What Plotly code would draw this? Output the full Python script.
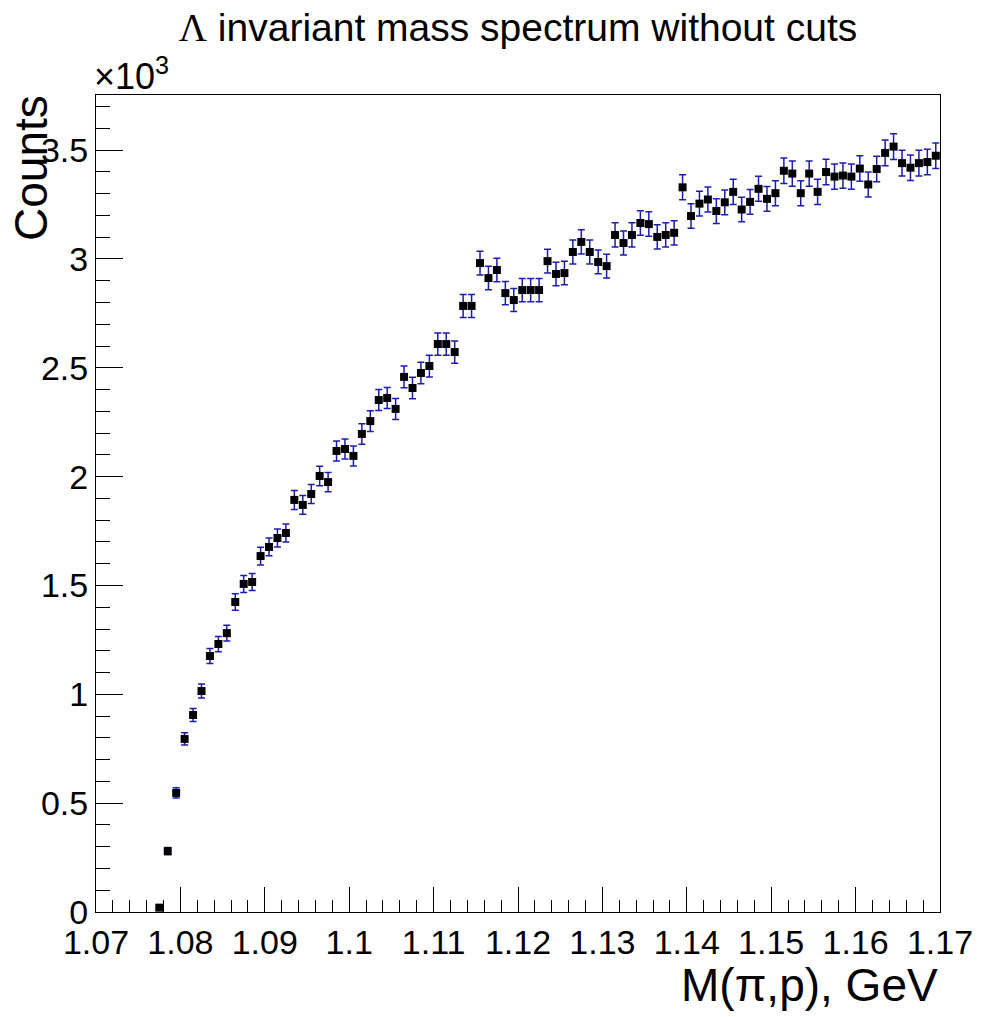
import numpy as np
import plotly.graph_objects as go

# Bin centres (GeV): bins of width 0.001 starting at 1.077
mass = [round(1.0775 + 0.001 * i, 4) for i in range(93)]

counts = [
    20, 280, 547, 795, 905, 1015, 1176, 1231, 1281, 1424,
    1507, 1516, 1635, 1677, 1718, 1741, 1893, 1870, 1920, 2003,
    1975, 2118, 2127, 2095, 2196, 2255, 2352, 2361, 2311, 2458,
    2407, 2476, 2508, 2609, 2609, 2572, 2784, 2784, 2981, 2912,
    2949, 2843, 2811, 2857, 2857, 2857, 2990, 2931, 2935, 3032,
    3078, 3032, 2986, 2967, 3110, 3073, 3110, 3165, 3160, 3101,
    3110, 3120, 3329, 3197, 3254, 3273, 3220, 3260, 3308, 3227,
    3262, 3322, 3276, 3302, 3405, 3392, 3302, 3392, 3308, 3399,
    3378, 3383, 3378, 3415, 3342, 3413, 3487, 3516, 3440, 3419,
    3440, 3445, 3474,
]

x_ticks = [1.07, 1.08, 1.09, 1.10, 1.11, 1.12, 1.13, 1.14, 1.15, 1.16, 1.17]
x_ticktext = ["1.07", "1.08", "1.09", "1.1", "1.11", "1.12", "1.13", "1.14", "1.15", "1.16", "1.17"]
y_ticks = [0, 0.5, 1, 1.5, 2, 2.5, 3, 3.5]
y_ticktext = ["0", "0.5", "1", "1.5", "2", "2.5", "3", "3.5"]

FONT = "Liberation Sans, Arial, Helvetica, sans-serif"

y_k = np.array(counts) / 1000.0
err_k = np.sqrt(np.array(counts)) / 1000.0

fig = go.Figure()
fig.add_trace(go.Scatter(
    x=mass, y=y_k, mode="markers",
    marker=dict(symbol="square", size=8, color="black"),
    error_y=dict(type="data", array=err_k, visible=True,
                 color="#1c1cb0", thickness=1.5, width=3.5),
    showlegend=False,
))

axis_common = dict(
    showgrid=False, zeroline=False, showline=True, linecolor="black",
    linewidth=1, mirror=True, ticks="inside", tickcolor="black",
    automargin=False,
    tickfont=dict(family=FONT, size=34, color="black"),
)

fig.update_xaxes(
    range=[1.07, 1.17], tickvals=x_ticks, ticktext=x_ticktext,
    ticklen=25, tickwidth=1,
    minor=dict(ticks="inside", ticklen=12, dtick=0.002, tick0=1.07, tickcolor="black", showgrid=False),
    **axis_common,
)
fig.update_yaxes(
    range=[0, 3.753], tickvals=y_ticks, ticktext=y_ticktext,
    ticklen=27, tickwidth=1,
    minor=dict(ticks="inside", ticklen=14, dtick=0.1, tick0=0, tickcolor="black", showgrid=False),
    **axis_common,
)

# page has an 8px body margin: figure coordinates = screen coordinates - 8
OFF = 8
W, H = 981 - OFF, 1017 - OFF
L, R, T, B = 96 - OFF, 981 - 940, 95 - OFF, 1017 - 912
PW = W - L - R
PH = H - T - B

fig.update_layout(
    width=W, height=H,
    margin=dict(l=L, r=R, t=T, b=B, autoexpand=False),
    paper_bgcolor="white", plot_bgcolor="white",
    title=dict(text="<span style=\"font-family:'Liberation Serif', serif\">Λ</span> invariant mass spectrum without cuts",
               x=(518 - OFF) / W, xanchor="center", y=1 - (27 - OFF) / H, yanchor="middle",
               font=dict(family=FONT, size=39, color="black")),
    annotations=[
        dict(text="M(π,p), GeV", xref="paper", yref="paper", x=1.0, y=-(985 - 912) / PH,
             xanchor="right", yanchor="middle", showarrow=False,
             font=dict(family=FONT, size=46, color="black")),
        dict(text="Counts", xref="paper", yref="paper", x=(31 - 96) / PW, y=1.0 + 2 / PH,
             xanchor="center", yanchor="top", textangle=-90, showarrow=False,
             font=dict(family=FONT, size=46, color="black")),
        dict(text="×10<sup>3</sup>", xref="paper", yref="paper", x=-4 / PW, y=1.0 - 4 / PH,
             xanchor="left", yanchor="bottom", showarrow=False,
             font=dict(family=FONT, size=36, color="black")),
    ],
)

fig.write_html("out.html")
